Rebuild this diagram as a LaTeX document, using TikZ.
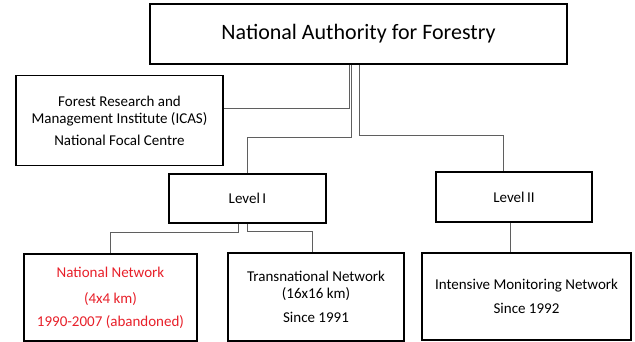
\documentclass[tikz,border=0pt]{standalone}
\usepackage{fontspec}
\setmainfont{Carlito}
\definecolor{netred}{RGB}{232,32,42}
\definecolor{conngray}{RGB}{95,95,95}
\tikzset{
  x=1pt, y=-1pt,
  box/.style={draw=black, line width=1.8pt, rectangle, inner sep=0pt, align=center, fill=white},
  conn/.style={draw=conngray, line width=1pt},
  txt/.style={font=\fontsize{15}{17}\selectfont},
}
\begin{document}
\begin{tikzpicture}
\useasboundingbox (0,0) rectangle (635,342);
% boxes
\node[box, minimum width=417pt, minimum height=60pt, font=\fontsize{22}{26}\selectfont] (top) at (358.5,34) {National Authority for Forestry};
\node[box, txt, minimum width=207pt, minimum height=90pt] (icas) at (119.5,120.5) {Forest Research and\\Management Institute (ICAS)\\[5pt]National Focal Centre};
\node[box, txt, minimum width=157pt, minimum height=49pt] (lvl1) at (247.5,198.5) {Level\,I};
\node[box, txt, minimum width=156pt, minimum height=50pt] (lvl2) at (514,197) {Level\,II};
\node[box, txt, text=netred, minimum width=173pt, minimum height=87pt] (nn) at (110.5,297.5) {National Network\\[9pt](4x4 km)\\[6pt]1990-2007 (abandoned)};
\node[box, txt, minimum width=176pt, minimum height=88pt] (tn) at (316,297) {Transnational Network\\(16x16 km)\\[7pt]Since 1991};
\node[box, txt, minimum width=209pt, minimum height=87pt] (im) at (526.5,296.5) {Intensive Monitoring Network\\[7pt]Since 1992};
% connectors
\draw[conn] (top.south -| 349,0) |- (icas.east |- 0,109);
\draw[conn] (top.south -| 351.5,0) -- (351.5,138) -| (lvl1.north);
\draw[conn] (top.south -| 359,0) |- (503,136) -- (lvl2.north -| 503,0);
\draw[conn] (lvl1.south -| 238,0) |- (nn.north |- 0,232) -- (nn.north);
\draw[conn] (lvl1.south) |- (312,231) -- (tn.north -| 312,0);
\draw[conn] (lvl2.south -| 510,0) -- (im.north -| 510,0);
\end{tikzpicture}
\end{document}
